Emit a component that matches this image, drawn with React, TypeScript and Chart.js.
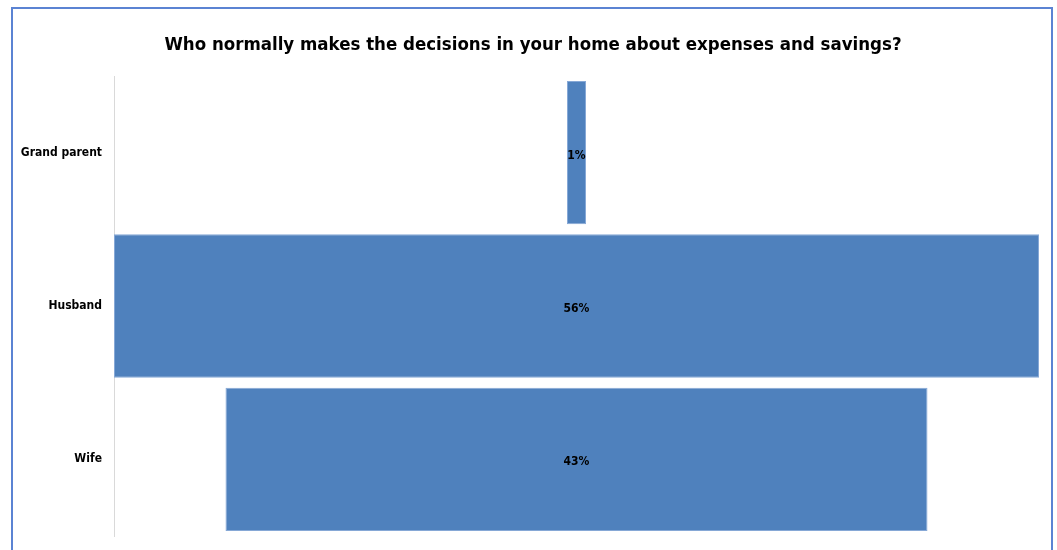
import React, { useEffect, useRef } from "react";
import { Chart, registerables } from "chart.js";

Chart.register(...registerables);

const categories = ["Grand parent", "Husband", "Wife"];
const shares = [1.15, 56.0, 42.5];
const titleText = "Who normally makes the decisions in your home about expenses and savings?";

const FONT = "'Liberation Sans Narrow', 'DejaVu Sans Condensed', 'Open Sans', sans-serif";

const framePlugin = {
  id: "frame",
  afterDraw(chart: any) {
    const ctx = chart.ctx;
    ctx.save();
    ctx.strokeStyle = "#5b83d3";
    ctx.lineWidth = 2;
    ctx.strokeRect(12, 8, 1040, 560);
    ctx.fillStyle = "#000";
    ctx.font = `bold 18.5px ${FONT}`;
    ctx.textAlign = "center";
    ctx.textBaseline = "middle";
    ctx.fillText(titleText, 533, 45);
    ctx.restore();
  },
};

const labelPlugin = {
  id: "centerLabels",
  afterDatasetsDraw(chart: any) {
    const ctx = chart.ctx;
    const meta = chart.getDatasetMeta(0);
    ctx.save();
    ctx.fillStyle = "#000";
    ctx.font = `bold 12px ${FONT}`;
    ctx.textAlign = "center";
    ctx.textBaseline = "middle";
    meta.data.forEach((bar: any, i: number) => {
      const p = bar.getProps(["x", "y", "base"], true);
      const cx = (p.x + p.base) / 2;
      ctx.fillText(Math.round(shares[i]) + "%", cx, p.y + 3);
    });
    ctx.restore();
  },
};

export default function App() {
  const ref = useRef<HTMLCanvasElement>(null);
  useEffect(() => {
    const maxV = Math.max(...shares);
    const chart = new Chart(ref.current!, {
      type: "bar",
      data: {
        labels: categories,
        datasets: [
          {
            data: shares.map((v) => [-v / 2, v / 2]) as any,
            backgroundColor: "#4f81bd",
            borderColor: "#86a8d6",
            borderWidth: 1,
            borderSkipped: false,
            barPercentage: 0.935,
            categoryPercentage: 1,
          },
        ],
      },
      options: {
        indexAxis: "y",
        animation: false,
        responsive: false,
        maintainAspectRatio: false,
        layout: { padding: { left: 0, right: 18, top: 76, bottom: 14 } },
        plugins: {
          legend: { display: false },
          tooltip: { enabled: false },
          title: { display: false },
        },
        scales: {
          x: { display: false, min: -maxV / 2, max: maxV / 2 },
          y: {
            grid: { display: false, drawTicks: false },
            border: { display: true, color: "#d9d9d9", width: 1 },
            ticks: {
              color: "#000",
              padding: 12,
              font: { family: FONT, size: 12, weight: "bold" },
            },
            afterFit(scale: any) {
              scale.width = 114;
              scale.paddingTop = 0;
              scale.paddingBottom = 0;
            },
          },
        },
      },
      plugins: [framePlugin, labelPlugin],
    });
    return () => chart.destroy();
  }, []);
  return (
    <canvas
      ref={ref}
      width={1057}
      height={550}
      style={{ position: "fixed", left: 0, top: 0, width: 1057, height: 550 }}
    />
  );
}
